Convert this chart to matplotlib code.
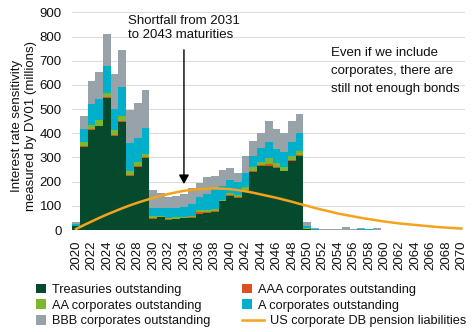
import matplotlib
matplotlib.use("Agg")
import matplotlib.pyplot as plt
import numpy as np
from matplotlib.patches import Patch
from matplotlib.lines import Line2D

plt.rcParams['font.family'] = ['Liberation Sans', 'DejaVu Sans']

years = list(range(2020, 2071))

treasuries = [15, 345, 415, 428, 545, 388, 446, 225, 262, 297,
              47, 53, 43, 44, 48, 50, 68, 70, 74, 118,
              141, 133, 163, 240, 266, 266, 257, 242, 287, 308,
              5, 0, 0, 0, 0, 0, 0, 0, 0, 0,
              0, 0, 0, 0, 0, 0, 0, 0, 0, 0, 0]
aaa = [0, 3, 3, 3, 3, 4, 3, 4, 3, 3,
       3, 2, 2, 3, 2, 3, 5, 4, 3, 3,
       4, 3, 4, 4, 4, 6, 4, 4, 3, 3,
       0, 0, 0, 0, 0, 2, 2, 1, 0, 0,
       0, 0, 0, 0, 0, 0, 0, 0, 0, 0, 0]
aa = [0, 14, 18, 22, 17, 20, 23, 14, 16, 15,
      7, 3, 5, 5, 4, 5, 8, 8, 8, 5,
      6, 9, 9, 15, 12, 24, 14, 13, 16, 17,
      2, 0, 1, 0, 0, 0, 0, 0, 0, 0,
      0, 0, 0, 0, 0, 0, 0, 0, 0, 0, 0]
a_corp = [10, 55, 87, 90, 115, 88, 118, 117, 100, 107,
          36, 33, 40, 40, 40, 49, 55, 66, 83, 58,
          55, 55, 61, 47, 55, 69, 58, 62, 59, 74,
          10, 3, 0, 0, 2, 0, 0, 4, 3, 2,
          0, 0, 0, 0, 2, 2, 0, 0, 0, 0, 0]
bbb = [10, 55, 95, 111, 130, 147, 155, 137, 145, 155,
       71, 64, 45, 48, 55, 65, 58, 72, 55, 66,
       51, 37, 69, 63, 65, 84, 83, 82, 87, 76,
       15, 5, 3, 3, 2, 10, 1, 3, 1, 5,
       1, 1, 1, 1, 0, 0, 1, 1, 1, 1, 1]
pension = [4, 20, 35, 50, 64, 77, 90, 102, 113, 123,
           133, 141, 149, 156, 162, 166, 169, 171, 172, 171,
           169, 165, 160, 154, 147, 140, 133, 125, 117, 108,
           100, 91, 83, 76, 68, 62, 56, 50, 45, 40,
           35, 31, 27, 24, 21, 18, 15, 12, 10, 8, 6]

labels = ["Treasuries outstanding", "AAA corporates outstanding",
          "AA corporates outstanding", "A corporates outstanding",
          "BBB corporates outstanding", "US corporate DB pension liabilities"]
colors = ["#054a2d", "#d9521f", "#7cb82f", "#00afc9", "#97a2a9", "#f5a21c"]

fig = plt.figure(figsize=(4.73, 3.32), dpi=100)
ax = fig.add_axes([0.1526, 0.3072, 0.8311, 0.6557])

x = np.array(years)
bottom = np.zeros(len(years))
series = [treasuries, aaa, aa, a_corp, bbb]
for vals, col, lab in zip(series, colors[:5], labels[:5]):
    v = np.array(vals, dtype=float)
    ax.bar(x, v, width=1.0, bottom=bottom, color=col, linewidth=0, label=lab)
    bottom += v

ax.plot(x, pension, color=colors[5], lw=1.8, label=labels[5])

ax.set_xlim(2019.5, 2070.5)
ax.set_ylim(0, 900)
ax.set_yticks(range(0, 901, 100))
ax.set_xticks(range(2020, 2071, 2))
ax.set_xticklabels([str(y) for y in range(2020, 2071, 2)], rotation=90)
ax.tick_params(axis='both', length=0, labelsize=9.5, colors='#111111')
ax.tick_params(axis='y', pad=7.5)
ax.tick_params(axis='x', pad=7.5)
ax.grid(axis='y', color='#dddddd', lw=0.8)
ax.set_axisbelow(True)
for s in ax.spines.values():
    s.set_visible(False)

fig.text(24 / 473, 1 - 126 / 332,
         "Interest rate sensitivity\nmeasured by DV01 (millions)",
         rotation=90, ha='center', va='center', fontsize=9.5,
         linespacing=1.2, color='#111111', multialignment='center')

ax.annotate("", xy=(2034.0, 190), xytext=(2034.0, 745),
            arrowprops=dict(arrowstyle='-|>,head_length=0.45,head_width=0.25',
                            color='black', lw=1, mutation_scale=12,
                            shrinkA=0, shrinkB=0))
fig.text(128 / 473, 1 - 15 / 332, "Shortfall from 2031\nto 2043 maturities",
         ha='left', va='top', fontsize=9.5, linespacing=1.2, color='#111111')
fig.text(331 / 473, 1 - 47.5 / 332,
         "Even if we include\ncorporates, there are\nstill not enough bonds",
         ha='left', va='top', fontsize=9.5, linespacing=1.65, color='#111111')

def patch(i):
    return Patch(facecolor=colors[i], edgecolor='none')

fs_leg = 9.2
common = dict(frameon=False, fontsize=fs_leg, borderpad=0, borderaxespad=0,
              handlelength=0.78, handleheight=0.78, handletextpad=0.45,
              labelspacing=0.28, loc='upper left')
leg1 = fig.legend([patch(0), patch(2), patch(4)],
                  [labels[0], labels[2], labels[4]],
                  bbox_to_anchor=(36 / 473, 1 - 283.5 / 332), **common)
leg2 = fig.legend([patch(1), patch(3)], [labels[1], labels[3]],
                  bbox_to_anchor=(242 / 473, 1 - 283.5 / 332), **common)
leg3 = fig.legend([Line2D([0], [0], color=colors[5], lw=1.8)], [labels[5]],
                  frameon=False, fontsize=fs_leg, borderpad=0, borderaxespad=0,
                  handlelength=1.7, handletextpad=0.5, loc='upper left',
                  bbox_to_anchor=(242 / 473, 1 - 315 / 332))
for lg in (leg1, leg2, leg3):
    for t in lg.get_texts():
        t.set_color('#111111')

fig.savefig("out.png", dpi=100)
